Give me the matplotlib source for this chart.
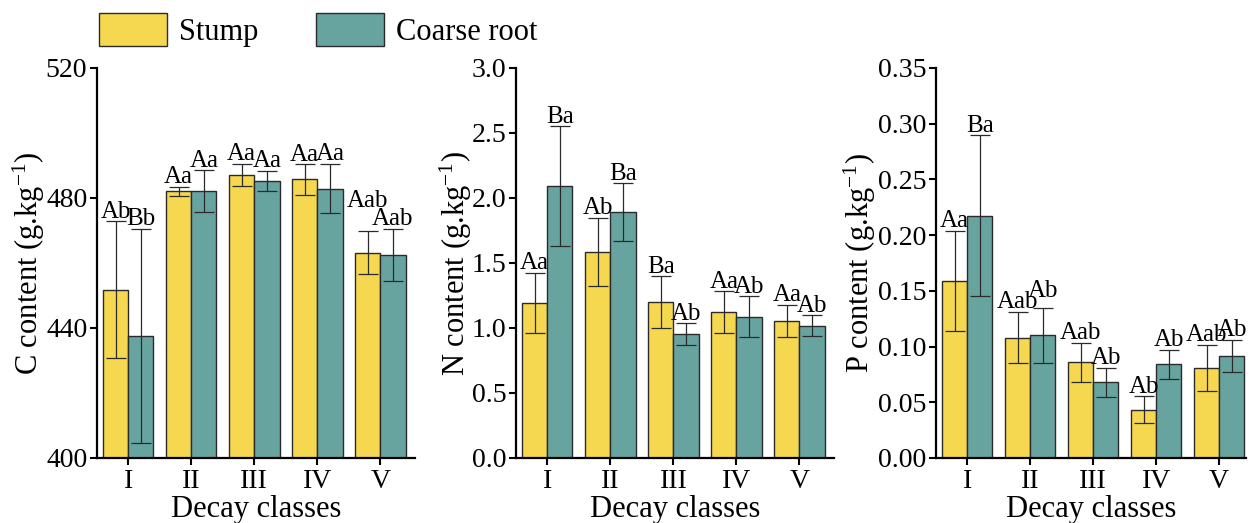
import numpy as np
import matplotlib
matplotlib.use("Agg")
import matplotlib.pyplot as plt
from matplotlib.ticker import FormatStrFormatter

plt.rcParams['font.family'] = ['Liberation Serif', 'DejaVu Serif']
plt.rcParams['mathtext.fontset'] = 'custom'
plt.rcParams['mathtext.rm'] = 'Liberation Serif'
plt.rcParams['mathtext.it'] = 'Liberation Serif:italic'

classes = ['I', 'II', 'III', 'IV', 'V']

c_stump = [451.8, 482.1, 487.2, 485.7, 463.2]
c_stump_err = [21.0, 1.4, 3.4, 4.7, 6.5]
c_root = [437.6, 482.1, 485.3, 482.9, 462.6]
c_root_err = [33.0, 6.4, 3.0, 7.6, 8.0]
c_lab_stump = ['Ab', 'Aa', 'Aa', 'Aa', 'Aab']
c_lab_root = ['Bb', 'Aa', 'Aa', 'Aa', 'Aab']

n_stump = [1.195, 1.585, 1.197, 1.121, 1.056]
n_stump_err = [0.23, 0.264, 0.20, 0.16, 0.122]
n_root = [2.092, 1.890, 0.951, 1.087, 1.017]
n_root_err = [0.46, 0.223, 0.085, 0.156, 0.08]
n_lab_stump = ['Aa', 'Ab', 'Ba', 'Aa', 'Aa']
n_lab_root = ['Ba', 'Ba', 'Ab', 'Ab', 'Ab']

p_stump = [0.159, 0.108, 0.086, 0.0434, 0.081]
p_stump_err = [0.045, 0.023, 0.0175, 0.012, 0.0205]
p_root = [0.2175, 0.110, 0.068, 0.084, 0.0918]
p_root_err = [0.072, 0.025, 0.013, 0.013, 0.0145]
p_lab_stump = ['Aa', 'Aab', 'Aab', 'Ab', 'Aab']
p_lab_root = ['Ba', 'Ab', 'Ab', 'Ab', 'Ab']

yellow = '#F5D850'
teal = '#67A4A0'

fig = plt.figure(figsize=(12.55, 5.23), dpi=100)

# lift (points) for labels that sit higher in the original
panels = [
    dict(rect=[0.0773, 0.1243, 0.2534, 0.7457], s=c_stump, se=c_stump_err, r=c_root, re=c_root_err,
         ls=c_lab_stump, lr=c_lab_root, ylim=(400, 520), ticks=[400, 440, 480, 520], fmt='%d',
         ylabel='C content (g.kg$^{-1}$)', xmax=4.55, lpad=-1, lift_s={4: 15}, lift_r={}),
    dict(rect=[0.4112, 0.1243, 0.2534, 0.7457], s=n_stump, se=n_stump_err, r=n_root, re=n_root_err,
         ls=n_lab_stump, lr=n_lab_root, ylim=(0, 3.0), ticks=np.arange(0, 3.01, 0.5), fmt='%.1f',
         ylabel='N content (g.kg$^{-1}$)', xmax=4.55, lpad=-2, lift_s={}, lift_r={}),
    dict(rect=[0.7458, 0.1243, 0.2470, 0.7457], s=p_stump, se=p_stump_err, r=p_root, re=p_root_err,
         ls=p_lab_stump, lr=p_lab_root, ylim=(0, 0.35), ticks=np.arange(0, 0.351, 0.05), fmt='%.2f',
         ylabel='P content (g.kg$^{-1}$)', xmax=4.425, lpad=0, lift_s={}, lift_r={1: 5}),
]

x = np.arange(len(classes))
w = 0.4
for p in panels:
    ax = fig.add_axes(p['rect'])
    b1 = ax.bar(x - w/2, p['s'], w, color=yellow, edgecolor='#2a2a2a', linewidth=1.0,
                label='Stump', zorder=2)
    b2 = ax.bar(x + w/2, p['r'], w, color=teal, edgecolor='#2a2a2a', linewidth=1.0,
                label='Coarse root', zorder=2)
    ax.errorbar(x - w/2, p['s'], yerr=p['se'], fmt='none', ecolor='#2a2a2a', elinewidth=0.9,
                capsize=7, capthick=0.9, zorder=3)
    ax.errorbar(x + w/2, p['r'], yerr=p['re'], fmt='none', ecolor='#2a2a2a', elinewidth=0.9,
                capsize=7, capthick=0.9, zorder=3)
    for i, (xi, v, e, t) in enumerate(zip(x - w/2, p['s'], p['se'], p['ls'])):
        ax.annotate(t, (xi, v + e), xytext=(0, -1 + p['lift_s'].get(i, 0)), textcoords='offset points',
                    ha='center', va='bottom', fontsize=18)
    for i, (xi, v, e, t) in enumerate(zip(x + w/2, p['r'], p['re'], p['lr'])):
        ax.annotate(t, (xi, v + e), xytext=(0, -1 + p['lift_r'].get(i, 0)), textcoords='offset points',
                    ha='center', va='bottom', fontsize=18)
    ax.set_ylim(*p['ylim'])
    ax.set_xlim(-0.495, p['xmax'])
    ax.set_yticks(p['ticks'])
    ax.yaxis.set_major_formatter(FormatStrFormatter(p['fmt']))
    ax.set_xticks(x)
    ax.set_xticklabels(classes)
    ax.tick_params(labelsize=20, width=1.5, length=5, direction='out', pad=2)
    ax.tick_params(axis='x', pad=3)
    for sp in ['top', 'right']:
        ax.spines[sp].set_visible(False)
    for sp in ['left', 'bottom']:
        ax.spines[sp].set_linewidth(1.6)
    ax.set_ylabel(p['ylabel'], fontsize=22, labelpad=p['lpad'])
    ax.set_xlabel('Decay classes', fontsize=22, labelpad=1)
    if p is panels[0]:
        handles = [b1, b2]

fig.legend(handles, ['Stump', 'Coarse root'], loc='upper left', bbox_to_anchor=(0.079, 0.975),
           ncol=2, frameon=False, fontsize=22, handlelength=2.22, handleheight=1.3,
           handletextpad=0.39, columnspacing=1.9, borderpad=0, borderaxespad=0)

fig.savefig('out.png', dpi=100)
